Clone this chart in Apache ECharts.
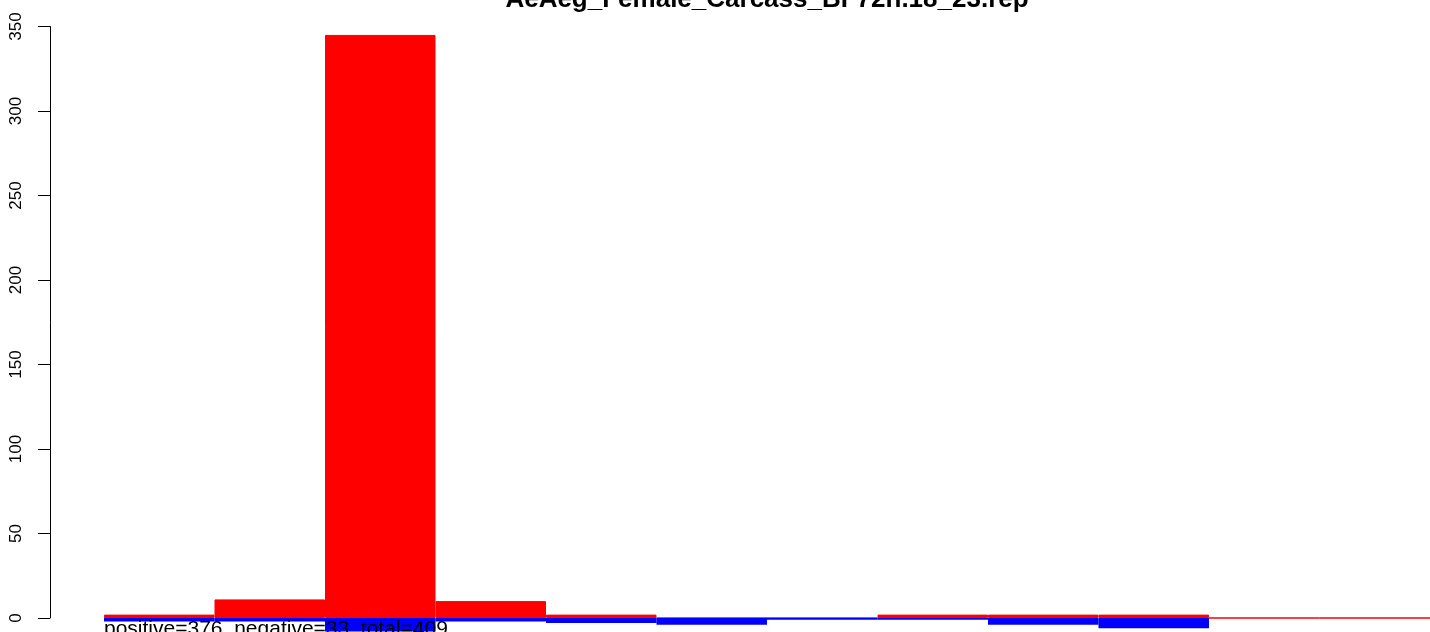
<!DOCTYPE html>
<html>
<head>
<meta charset="utf-8">
<script src="https://cdn.jsdelivr.net/npm/echarts@6/dist/echarts.min.js"></script>
<style>
html,body{margin:0;padding:0;background:#fff;}
#chart{width:1430px;height:632px;}
</style>
</head>
<body>
<div id="chart"></div>
<script>
// ---- data ----
const chartTitle = 'AeAeg_Female_Carcass_BF72h.18_23.rep';
const bins = ['1','2','3','4','5','6','7','8','9','10','11','12'];
const positive = [2, 11, 345, 10, 2, 0, 0, 2, 2, 2, 0, 0];
const negative = [2, 2, 8, 2, 3, 4, 1, 1, 4, 6, 0, 0];
const yTicks = [0, 50, 100, 150, 200, 250, 300, 350];

const sum = a => a.reduce((s, v) => s + v, 0);
const posTotal = sum(positive), negTotal = sum(negative);
const summary = 'positive=' + posTotal + ', negative=' + negTotal + ', total=' + (posTotal + negTotal);

const FONT = "'Liberation Sans', Arial, sans-serif";
const yMax = yTicks[yTicks.length - 1];
const top0 = 26.5, zeroY = 618, H = 632;
const k = (zeroY - top0) / yMax;
const yMin = -(H - zeroY) / k;

const chart = echarts.init(document.getElementById('chart'), null, {renderer: 'canvas'});
chart.setOption({
  animation: false,
  backgroundColor: '#ffffff',
  title: [
    {
      text: chartTitle, left: 767, top: -13, padding: 0, textAlign: 'center',
      textStyle: {fontFamily: FONT, fontSize: 26, fontWeight: 'bold', color: '#000'}
    },
    {
      text: summary, left: 104, top: 619, padding: 0,
      textStyle: {fontFamily: FONT, fontSize: 21, fontWeight: 'normal', color: '#000'}
    }
  ],
  grid: [
    {left: 104, right: 0, top: top0, bottom: 0, containLabel: false},
    {left: 50, width: 100, top: top0, bottom: H - zeroY, containLabel: false}
  ],
  xAxis: [
    {type: 'category', data: bins, gridIndex: 0, show: false, boundaryGap: true},
    {type: 'value', gridIndex: 1, show: false}
  ],
  yAxis: [
    {type: 'value', gridIndex: 0, min: yMin, max: yMax, show: false},
    {
      type: 'value', gridIndex: 1, min: yTicks[0], max: yMax, interval: 50,
      axisLine: {show: true, lineStyle: {color: '#000', width: 1}},
      axisTick: {show: true, length: 12, lineStyle: {color: '#000', width: 1}},
      axisLabel: {rotate: 90, margin: 25, fontFamily: FONT, fontSize: 17, color: '#000'},
      splitLine: {show: false}
    }
  ],
  series: [
    {
      type: 'bar', xAxisIndex: 0, yAxisIndex: 0,
      data: positive,
      barWidth: '100%', barGap: '-100%',
      itemStyle: {color: '#ff0000', borderColor: '#ff0000', borderWidth: 1},
      silent: true
    },
    {
      type: 'bar', xAxisIndex: 0, yAxisIndex: 0,
      data: negative.map(v => -v),
      barWidth: '100%', barGap: '-100%',
      itemStyle: {color: '#0000ff'},
      silent: true
    }
  ]
});
</script>
</body>
</html>
